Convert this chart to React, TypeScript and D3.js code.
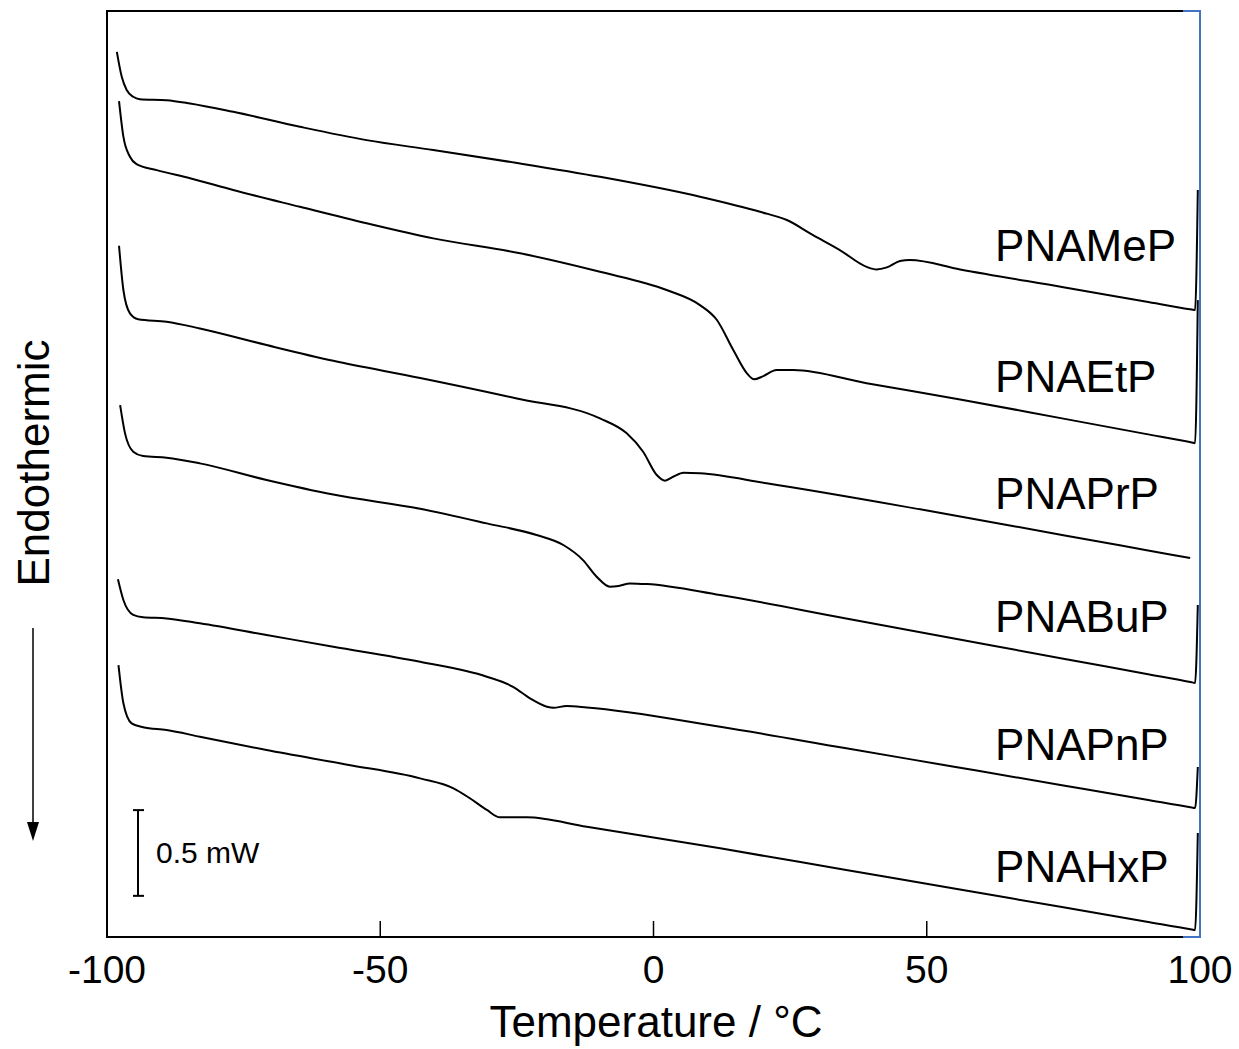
import React from "react";
import * as d3 from "d3";

// DSC traces, [temperature °C, heat flow mW (stacked offset)]
const pnaMeP = [
  [-98.2, 5.162], [-97.3, 5.016], [-96.4, 4.939], [-95.2, 4.9], [-94.0, 4.886], [-89.1, 4.88],
  [-84.8, 4.861], [-76.9, 4.812], [-64.7, 4.725], [-52.5, 4.647], [-40.3, 4.589], [-24.4, 4.511],
  [-9.8, 4.433], [8.5, 4.317], [19.5, 4.229], [24.4, 4.181], [29.2, 4.093], [34.1, 4.006],
  [39.0, 3.908], [40.8, 3.893], [42.7, 3.905], [45.1, 3.942], [46.9, 3.948], [56.1, 3.893],
  [75.0, 3.789], [90.0, 3.706], [98.5, 3.659], [99.1, 3.656], [99.6, 4.356],
];
const pnaEtP = [
  [-97.8, 4.875], [-97.0, 4.667], [-95.8, 4.55], [-94.6, 4.507], [-90.9, 4.472], [-84.8, 4.425],
  [-76.9, 4.356], [-64.7, 4.258], [-52.5, 4.162], [-40.3, 4.074], [-24.4, 3.987], [-9.8, 3.879],
  [2.4, 3.773], [8.5, 3.685], [11.6, 3.598], [14.6, 3.423], [17.1, 3.287], [18.4, 3.252],
  [20.1, 3.271], [22.5, 3.306], [25.6, 3.306], [39.0, 3.229], [56.1, 3.135], [75.0, 3.023],
  [90.0, 2.934], [98.5, 2.884], [99.1, 2.88], [99.6, 3.714],
];
const pnaPrP = [
  [-97.8, 4.031], [-97.0, 3.773], [-95.8, 3.637], [-94.3, 3.603], [-89.1, 3.588], [-83.0, 3.549],
  [-70.8, 3.452], [-58.6, 3.36], [-42.7, 3.26], [-25.0, 3.14], [-9.8, 3.024], [-4.9, 2.937],
  [-1.9, 2.83], [0.6, 2.694], [2.1, 2.661], [3.6, 2.684], [5.5, 2.707], [8.5, 2.704],
  [20.7, 2.646], [48.8, 2.494], [75.0, 2.343], [90.0, 2.257], [98.2, 2.21],
];
const pnaBuP = [
  [-97.6, 3.102], [-96.7, 2.937], [-95.2, 2.83], [-93.4, 2.805], [-89.1, 2.795], [-83.0, 2.762],
  [-70.8, 2.665], [-58.6, 2.58], [-42.7, 2.497], [-30.5, 2.412], [-21.4, 2.344], [-16.5, 2.286],
  [-12.9, 2.198], [-10.4, 2.101], [-8.0, 2.043], [-6.4, 2.047], [-4.3, 2.062], [-1.2, 2.058],
  [12.2, 1.994], [35.0, 1.859], [55.0, 1.741], [75.0, 1.623], [90.0, 1.535], [98.5, 1.485],
  [99.1, 1.481], [99.6, 1.936],
];
const pnaPnP = [
  [-98.0, 2.086], [-97.0, 1.965], [-95.2, 1.878], [-93.4, 1.864], [-89.1, 1.858], [-83.0, 1.829],
  [-70.8, 1.761], [-58.6, 1.693], [-42.7, 1.605], [-30.5, 1.518], [-25.7, 1.459], [-22.6, 1.392],
  [-19.5, 1.343], [-18.3, 1.337], [-15.9, 1.347], [-12.2, 1.339], [12.2, 1.226], [35.0, 1.102],
  [55.0, 0.993], [75.0, 0.884], [90.0, 0.802], [98.5, 0.755], [99.1, 0.752], [99.6, 0.991],
];
const pnaHxP = [
  [-97.9, 1.586], [-97.0, 1.363], [-95.5, 1.246], [-93.4, 1.223], [-89.1, 1.207], [-83.0, 1.168],
  [-70.8, 1.09], [-56.0, 1.005], [-42.7, 0.925], [-36.6, 0.867], [-33.6, 0.809], [-30.5, 0.741],
  [-28.1, 0.698], [-23.2, 0.698], [-12.2, 0.643], [12.2, 0.517], [35.0, 0.392], [55.0, 0.283],
  [75.0, 0.173], [90.0, 0.091], [98.5, 0.044], [99.1, 0.041], [99.6, 0.606],
];

const seriesNames = ["PNAMeP", "PNAEtP", "PNAPrP", "PNABuP", "PNAPnP", "PNAHxP"];
const seriesData = [pnaMeP, pnaEtP, pnaPrP, pnaBuP, pnaPnP, pnaHxP];
const xTicks = [-100, -50, 0, 50, 100];

const FONT = "'Liberation Sans', Arial, Helvetica, sans-serif";

export default function App() {
  const width = 1239;
  const height = 1049;
  const left = 107, right = 1200, top = 11, bottom = 937;

  const x = d3.scaleLinear().domain([-100, 100]).range([left, right]);
  const y = d3.scaleLinear().domain([0, 5.4]).range([bottom, top]);

  const line = d3
    .line<number[]>()
    .x((d) => x(d[0]))
    .y((d) => y(d[1]))
    .curve(d3.curveMonotoneX);

  // value of a trace at temperature t (linear interpolation)
  const valueAt = (data: number[][], t: number) => {
    const i = d3.bisector((d: number[]) => d[0]).left(data, t);
    const a = data[Math.max(0, i - 1)], b = data[Math.min(data.length - 1, i)];
    if (a === b) return a[1];
    return a[1] + ((t - a[0]) / (b[0] - a[0])) * (b[1] - a[1]);
  };

  const labelT = 62.5;
  const blue = "#4472C4";

  // scale bar: 0.5 mW
  const barBase = 0.24;
  const barTop = y(barBase + 0.5);
  const barBot = y(barBase);

  return (
    <svg
      width={width}
      height={height}
      style={{ position: "absolute", left: 0, top: 0, background: "#fff" }}
      fontFamily={FONT}
    >
      {/* traces */}
      {seriesData.map((d, i) => (
        <path key={i} d={line(d) || ""} fill="none" stroke="#000" strokeWidth={2} strokeLinejoin="round" />
      ))}

      {/* labels */}
      {seriesData.map((d, i) => (
        <text key={i} x={x(labelT)} y={y(valueAt(d, labelT)) - 14} fontSize={44} fill="#000">
          {seriesNames[i]}
        </text>
      ))}

      {/* frame */}
      <line x1={left} y1={top} x2={right - 17} y2={top} stroke="#000" strokeWidth={2} />
      <line x1={left} y1={bottom} x2={right - 17} y2={bottom} stroke="#000" strokeWidth={2} />
      <line x1={left} y1={top - 1} x2={left} y2={bottom + 1} stroke="#000" strokeWidth={2} />
      <line x1={right - 17} y1={top} x2={right} y2={top} stroke={blue} strokeWidth={2} />
      <line x1={right - 17} y1={bottom} x2={right} y2={bottom} stroke={blue} strokeWidth={2} />
      <line x1={right} y1={top - 1} x2={right} y2={bottom + 1} stroke={blue} strokeWidth={2} />

      {/* x ticks */}
      {xTicks.map((t) => (
        <g key={t}>
          {t > -100 && t < 100 && (
            <line x1={x(t)} x2={x(t)} y1={bottom} y2={bottom - 16} stroke="#000" strokeWidth={1.5} />
          )}
          <text x={x(t)} y={983} textAnchor="middle" fontSize={39} fill="#000">
            {t}
          </text>
        </g>
      ))}

      <text x={656} y={1037} textAnchor="middle" fontSize={44} fill="#000">
        Temperature / °C
      </text>

      {/* y label + arrow */}
      <text transform="translate(49,463) rotate(-90)" textAnchor="middle" fontSize={44} fill="#000">
        Endothermic
      </text>
      <line x1={33} x2={33} y1={628} y2={826} stroke="#000" strokeWidth={1.5} />
      <path d="M27,822 L33,841 L39,822 Z" fill="#000" />

      {/* scale bar */}
      <line x1={138} x2={138} y1={barTop} y2={barBot} stroke="#000" strokeWidth={2} />
      <line x1={133} x2={144} y1={barTop} y2={barTop} stroke="#000" strokeWidth={2} />
      <line x1={133} x2={144} y1={barBot} y2={barBot} stroke="#000" strokeWidth={2} />
      <text x={156} y={863} fontSize={30} fill="#000">
        0.5 mW
      </text>
    </svg>
  );
}
